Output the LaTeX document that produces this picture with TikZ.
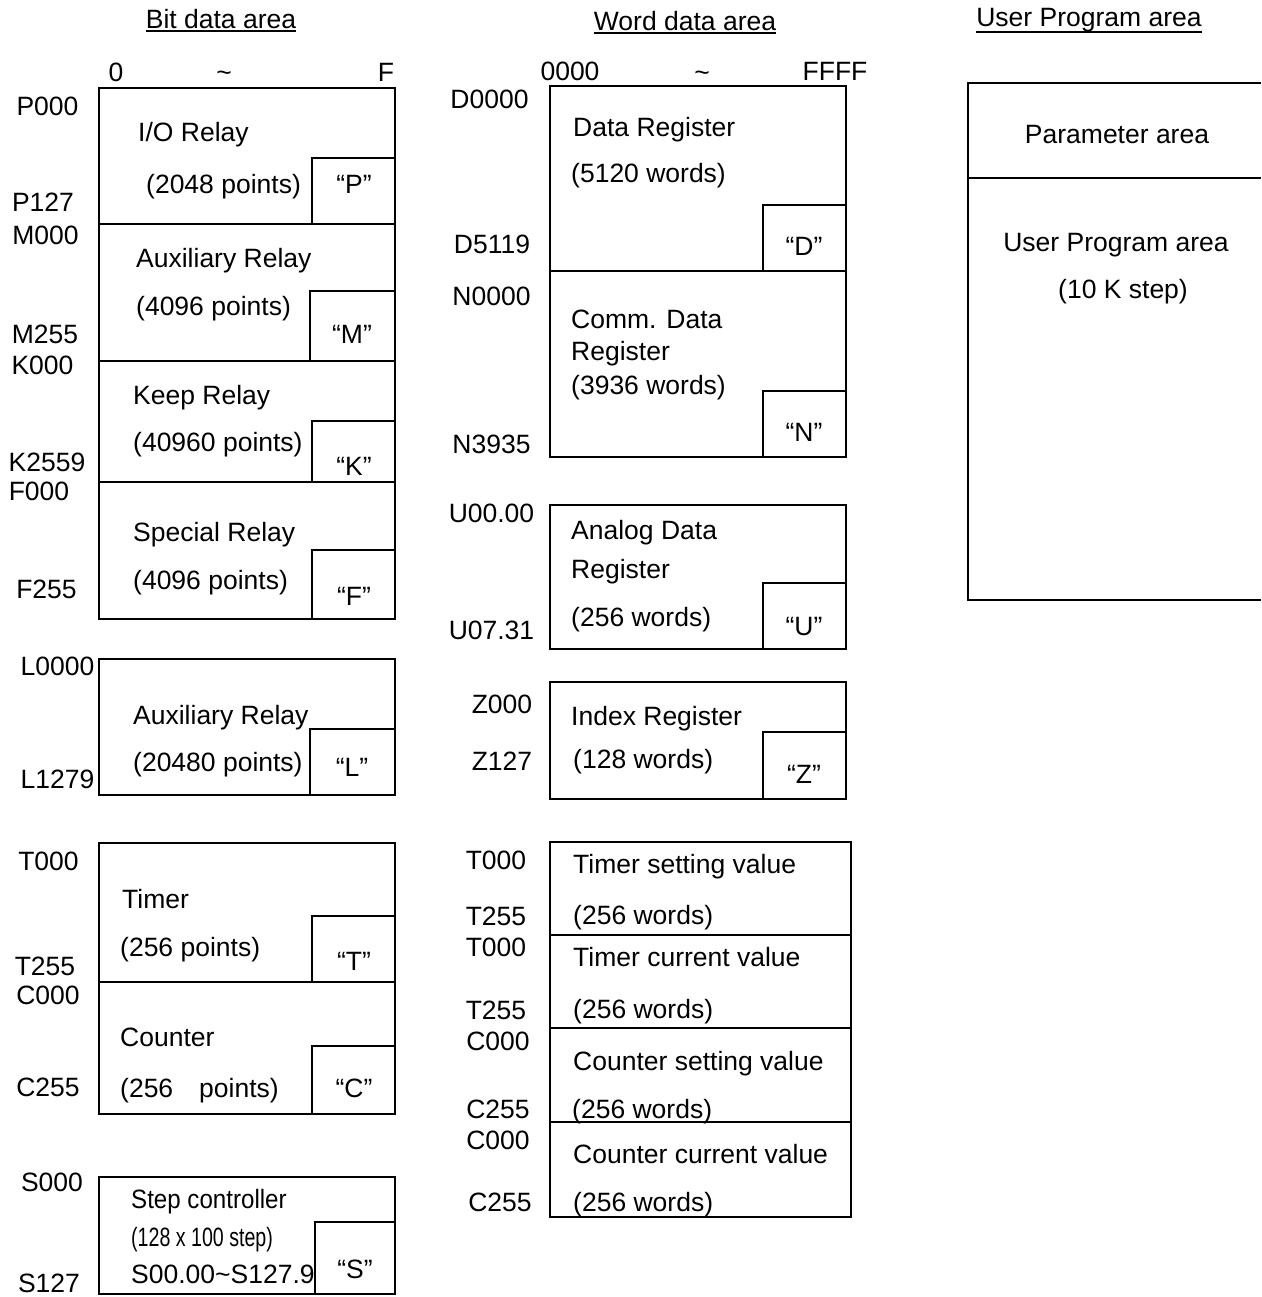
\documentclass[tikz,border=0pt]{standalone}
\usepackage{fontspec}
\setmainfont{Liberation Sans}
\begin{document}
\begin{tikzpicture}[x=1pt,y=-1pt,
  box/.style={draw=black,line width=1.7pt},
  sbox/.style={draw=black,line width=1.7pt,fill=white},
  txt/.style={anchor=west,inner sep=0pt,text height=20pt,text depth=3pt,font=\fontsize{26.5}{30}\selectfont},
  adr/.style={anchor=center,inner sep=0pt,text height=20pt,text depth=3pt,font=\fontsize{26.5}{30}\selectfont},
  uline/.style={line width=1.4pt}
]
\useasboundingbox (0,0) rectangle (1261,1297);
\fill[white] (0,0) rectangle (1261,1297);

% ---------- headers ----------
\node[adr] (hbit) at (221,20) {Bit data area};
\draw[uline] (hbit.west |- 0,31) -- (hbit.east |- 0,31);
\node[adr] (hword) at (685,22) {Word data area};
\draw[uline] (hword.west |- 0,33) -- (hword.east |- 0,33);
\node[adr] (huser) at (1089,18) {User Program area};
\draw[uline] (huser.west |- 0,32) -- (huser.east |- 0,32);

% ---------- bit data area ----------
\node[adr] (b0) at (116,73) {0};
\node[adr] (bt) at (224,73) {\textasciitilde};
\node[adr] (bF) at (386,73) {F};

% P
\draw[box] (99,88) rectangle (395,224);
\draw[sbox] (312,158) rectangle (395,224);
\node[txt] (pt1) at (138,133) {I/O Relay};
\node[txt] (pt2) at (146,185) {(2048 points)};
\node[adr] (pq) at (354,185) {“P”};
% M
\draw[box] (99,224) rectangle (395,361);
\draw[sbox] (310,291) rectangle (395,361);
\node[txt] (mt1) at (136,259) {Auxiliary Relay};
\node[txt] (mt2) at (136,307) {(4096 points)};
\node[adr] (mq) at (352,335) {“M”};
% K
\draw[box] (99,361) rectangle (395,482);
\draw[sbox] (312,421) rectangle (395,482);
\node[txt] (kt1) at (133,396) {Keep Relay};
\node[txt] (kt2) at (133,443) {(40960 points)};
\node[adr] (kq) at (354,467) {“K”};
% F
\draw[box] (99,482) rectangle (395,619);
\draw[sbox] (312,550) rectangle (395,619);
\node[txt] (ft1) at (133,533) {Special Relay};
\node[txt] (ft2) at (133,581) {(4096 points)};
\node[adr] (fq) at (354,597) {“F”};
% L
\draw[box] (99,659) rectangle (395,795);
\node[txt] (lt1) at (133,716) {Auxiliary Relay};
\node[txt] (lt2) at (133,763) {(20480 points)};
\draw[sbox] (310,729) rectangle (395,795);
\node[adr] (lq) at (352,768) {“L”};
% T
\draw[box] (99,843) rectangle (395,982);
\draw[sbox] (312,916) rectangle (395,982);
\node[txt] (tt1) at (122,900) {Timer};
\node[txt] (tt2) at (120,948) {(256 points)};
\node[adr] (tq) at (354,962) {“T”};
% C
\draw[box] (99,982) rectangle (395,1114);
\draw[sbox] (312,1046) rectangle (395,1114);
\node[txt] (ct1) at (120,1038) {Counter};
\node[txt] (ct2) at (120,1089) {(256\hspace{26pt}points)};
\node[adr] (cq) at (354,1089) {“C”};
% S
\draw[box] (99,1177) rectangle (395,1294);
\node[txt] (st1) at (131,1200) {\scalebox{0.91}[1]{Step controller}};
\node[txt] (st2) at (131,1238) {\scalebox{0.74}[1]{(128 x 100 step)}};
\node[txt] (st3) at (131,1275) {S00.00\textasciitilde S127.99};
\draw[sbox] (315,1222) rectangle (395,1294);
\node[adr] (sq) at (355,1270) {“S”};

% left address labels
\node[adr] (aP0) at (47.5,107) {P000};
\node[adr] (aP1) at (43,203) {P127};
\node[adr] (aM0) at (45.5,236) {M000};
\node[adr] (aM1) at (45,335) {M255};
\node[adr] (aK0) at (42.5,366) {K000};
\node[adr] (aK1) at (47,463) {K2559};
\node[adr] (aF0) at (39,492) {F000};
\node[adr] (aF1) at (46.5,590) {F255};
\node[adr] (aL0) at (57.5,667) {L0000};
\node[adr] (aL1) at (57.5,780) {L1279};
\node[adr] (aT0) at (48.5,862) {T000};
\node[adr] (aT1) at (45,967) {T255};
\node[adr] (aC0) at (48,996) {C000};
\node[adr] (aC1) at (48,1088) {C255};
\node[adr] (aS0) at (52,1183) {S000};
\node[adr] (aS1) at (49,1284) {S127};

% ---------- word data area ----------
\node[adr] (w0) at (570,72) {0000};
\node[adr] (wt) at (702,73) {\textasciitilde};
\node[adr] (wF) at (835,72) {FFFF};

% D
\draw[box] (550,86) rectangle (846,271);
\draw[sbox] (763,205) rectangle (846,271);
\node[txt] (dt1) at (573,128) {Data Register};
\node[txt] (dt2) at (571,174) {(5120 words)};
\node[adr] (dq) at (804,247) {“D”};
% N
\draw[box] (550,271) rectangle (846,457);
\draw[sbox] (763,391) rectangle (846,457);
\node[txt] (nt1) at (571,320) {Comm. Data};
\node[txt] (nt2) at (571,352) {Register};
\node[txt] (nt3) at (571,386) {(3936 words)};
\node[adr] (nq) at (804,433) {“N”};
% U
\draw[box] (550,505) rectangle (846,649);
\draw[sbox] (763,583) rectangle (846,649);
\node[txt] (ut1) at (571,531) {Analog Data};
\node[txt] (ut2) at (571,570) {Register};
\node[txt] (ut3) at (571,618) {(256 words)};
\node[adr] (uq) at (804,627) {“U”};
% Z
\draw[box] (550,682) rectangle (846,799);
\draw[sbox] (763,732) rectangle (846,799);
\node[txt] (zt1) at (571,717) {Index Register};
\node[txt] (zt2) at (573,760) {(128 words)};
\node[adr] (zq) at (804,775) {“Z”};
% timer / counter values
\draw[box] (550,842) rectangle (851,1217);
\draw[box] (550,935) -- (851,935);
\draw[box] (550,1028) -- (851,1028);
\draw[box] (550,1122) -- (851,1122);
\node[txt] (v1a) at (573,865) {Timer setting value};
\node[txt] (v1b) at (573,916) {(256 words)};
\node[txt] (v2a) at (573,958) {Timer current value};
\node[txt] (v2b) at (573,1010) {(256 words)};
\node[txt] (v3a) at (573,1062) {Counter setting value};
\node[txt] (v3b) at (572,1110) {(256 words)};
\node[txt] (v4a) at (573,1155) {Counter current value};
\node[txt] (v4b) at (573,1203) {(256 words)};

% middle address labels
\node[adr] (aD0) at (489.5,100) {D0000};
\node[adr] (aD1) at (492,245) {D5119};
\node[adr] (aN0) at (491.5,297) {N0000};
\node[adr] (aN1) at (491.5,445) {N3935};
\node[adr] (aU0) at (491.5,514) {U00.00};
\node[adr] (aU1) at (491.5,631) {U07.31};
\node[adr] (aZ0) at (502,705) {Z000};
\node[adr] (aZ1) at (502,762) {Z127};
\node[adr] (aTs0) at (496,861) {T000};
\node[adr] (aTs1) at (496,917) {T255};
\node[adr] (aTc0) at (496,948) {T000};
\node[adr] (aTc1) at (496,1011) {T255};
\node[adr] (aCs0) at (498,1042) {C000};
\node[adr] (aCs1) at (498,1110) {C255};
\node[adr] (aCc0) at (498,1141) {C000};
\node[adr] (aCc1) at (500,1203) {C255};

% ---------- user program area ----------
\draw[box] (1261,83) -- (968,83) -- (968,600) -- (1261,600);
\draw[box] (968,178) -- (1261,178);
\node[adr] (upa) at (1117,135) {Parameter area};
\node[adr] (upb) at (1116,243) {User Program area};
\node[adr] (upc) at (1123,290) {(10 K step)};
\end{tikzpicture}
\end{document}
